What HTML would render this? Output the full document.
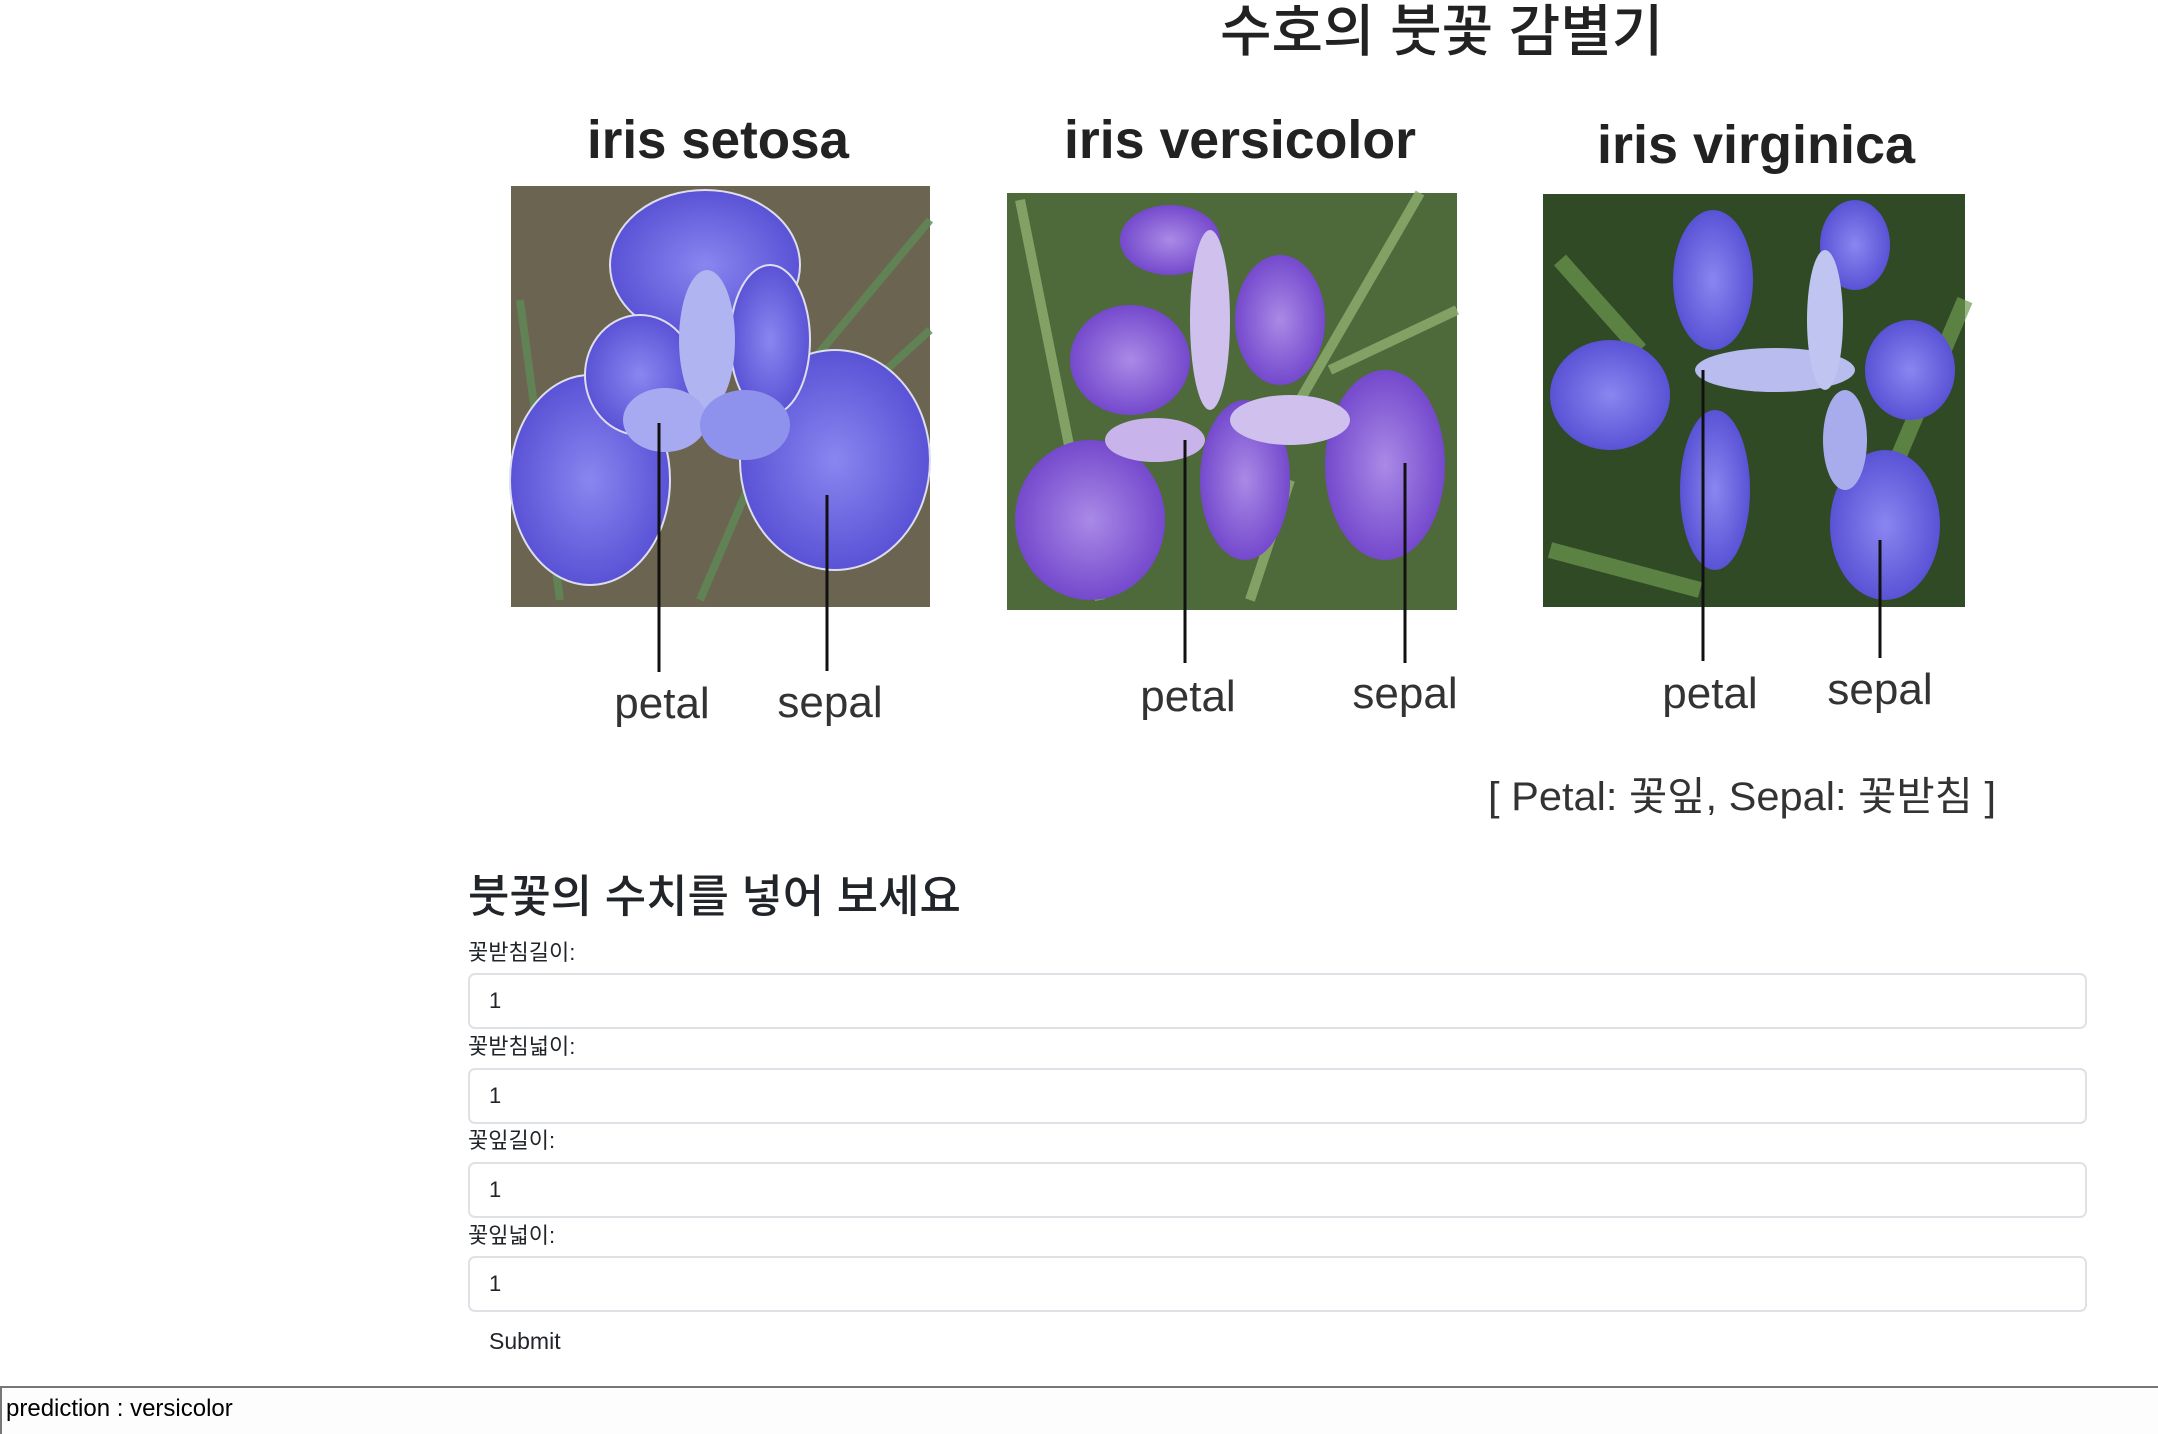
<!DOCTYPE html>
<html><head><meta charset="utf-8"><style>
body{margin:0;width:2158px;height:1434px;background:#fff;position:relative;overflow:hidden;font-family:"Liberation Sans","Noto Sans CJK KR",sans-serif;color:#212529}
.abs{position:absolute}
.lbl{position:absolute;left:468px;font-size:22px;line-height:26px}
.inp{position:absolute;left:468px;width:1619px;height:56px;border:2px solid #dee2e6;border-radius:7px;box-sizing:border-box;font-size:22px;line-height:52px;padding-left:19px;color:#212529}
</style></head><body>
<div class="abs" style="left:1220px;top:0;font-size:56px;line-height:64px;font-weight:500;color:#222">수호의 붓꽃 감별기</div>
<svg class="abs" style="left:0;top:0" width="2158" height="860">
<defs>
<radialGradient id="p" cx="50%" cy="50%" r="60%"><stop offset="0" stop-color="#8a86f0"/><stop offset="1" stop-color="#5048d0"/></radialGradient>
<radialGradient id="v" cx="50%" cy="50%" r="60%"><stop offset="0" stop-color="#a98ae6"/><stop offset="1" stop-color="#6a3cc8"/></radialGradient>
</defs>
<g font-family="Liberation Sans, sans-serif" font-weight="bold" font-size="54" fill="#222" text-anchor="middle">
<text x="718" y="158" textLength="262" lengthAdjust="spacingAndGlyphs">iris setosa</text>
<text x="1240" y="158" textLength="352" lengthAdjust="spacingAndGlyphs">iris versicolor</text>
<text x="1756" y="163" textLength="318" lengthAdjust="spacingAndGlyphs">iris virginica</text>
</g>
<rect x="511" y="186" width="419" height="421" fill="#6b6450"/>
<g stroke="#5f8a55" stroke-width="8" opacity=".8"><line x1="520" y1="300" x2="560" y2="600"/><line x1="930" y1="220" x2="780" y2="400"/><line x1="930" y1="330" x2="820" y2="430"/><line x1="700" y1="600" x2="760" y2="460"/></g>
<g fill="url(#p)" stroke="#dde" stroke-width="2">
<ellipse cx="705" cy="265" rx="95" ry="75"/>
<ellipse cx="590" cy="480" rx="80" ry="105"/>
<ellipse cx="835" cy="460" rx="95" ry="110"/>
<ellipse cx="640" cy="375" rx="55" ry="60"/>
<ellipse cx="770" cy="340" rx="40" ry="75"/>
</g>
<ellipse cx="707" cy="340" rx="28" ry="70" fill="#b0b4f0"/>
<ellipse cx="665" cy="420" rx="42" ry="32" fill="#a7aaf0"/>
<ellipse cx="745" cy="425" rx="45" ry="35" fill="#8f92ec"/>
<rect x="1007" y="193" width="450" height="417" fill="#4e6a3a"/>
<g stroke="#8fb070" stroke-width="10" opacity=".8"><line x1="1020" y1="200" x2="1100" y2="600"/><line x1="1420" y1="193" x2="1300" y2="400"/><line x1="1457" y1="310" x2="1330" y2="370"/><line x1="1250" y1="600" x2="1290" y2="480"/></g>
<g fill="url(#v)">
<ellipse cx="1170" cy="240" rx="50" ry="35"/>
<ellipse cx="1280" cy="320" rx="45" ry="65"/>
<ellipse cx="1130" cy="360" rx="60" ry="55"/>
<ellipse cx="1090" cy="520" rx="75" ry="80"/>
<ellipse cx="1385" cy="465" rx="60" ry="95"/>
<ellipse cx="1245" cy="480" rx="45" ry="80"/>
</g>
<ellipse cx="1210" cy="320" rx="20" ry="90" fill="#d0c0ee"/>
<ellipse cx="1290" cy="420" rx="60" ry="25" fill="#d0c0ee"/>
<ellipse cx="1155" cy="440" rx="50" ry="22" fill="#c8b4ea"/>
<rect x="1543" y="194" width="422" height="413" fill="#2f4a25"/>
<g stroke="#6f9a50" stroke-width="16" opacity=".7"><line x1="1550" y1="550" x2="1700" y2="590"/><line x1="1965" y1="300" x2="1880" y2="500"/><line x1="1560" y1="260" x2="1640" y2="350"/></g>
<g fill="url(#p)">
<ellipse cx="1713" cy="280" rx="40" ry="70"/>
<ellipse cx="1855" cy="245" rx="35" ry="45"/>
<ellipse cx="1910" cy="370" rx="45" ry="50"/>
<ellipse cx="1610" cy="395" rx="60" ry="55"/>
<ellipse cx="1715" cy="490" rx="35" ry="80"/>
<ellipse cx="1885" cy="525" rx="55" ry="75"/>
</g>
<ellipse cx="1775" cy="370" rx="80" ry="22" fill="#b8bcef"/>
<ellipse cx="1825" cy="320" rx="18" ry="70" fill="#c0c4f0"/>
<ellipse cx="1845" cy="440" rx="22" ry="50" fill="#a8acec"/>
<g stroke="#111" stroke-width="3">
<line x1="659" y1="423" x2="659" y2="672"/><line x1="827" y1="495" x2="827" y2="671"/>
<line x1="1185" y1="440" x2="1185" y2="663"/><line x1="1405" y1="463" x2="1405" y2="663"/>
<line x1="1703" y1="370" x2="1703" y2="661"/><line x1="1880" y1="540" x2="1880" y2="658"/>
</g>
<g font-family="Liberation Sans, sans-serif" font-size="44" fill="#333" text-anchor="middle">
<text x="662" y="718">petal</text><text x="830" y="717">sepal</text>
<text x="1188" y="711">petal</text><text x="1405" y="708">sepal</text>
<text x="1710" y="708">petal</text><text x="1880" y="704">sepal</text>
</g>
<text x="1996" y="810" text-anchor="end" font-family="Liberation Sans, Noto Sans CJK KR, sans-serif" font-size="40" fill="#333" textLength="508" lengthAdjust="spacingAndGlyphs">[ Petal: 꽃잎, Sepal: 꽃받침 ]</text>
</svg>
<div class="abs" style="left:468px;top:868px;font-size:45px;line-height:58px;font-weight:500">붓꽃의 수치를 넣어 보세요</div>
<div class="lbl" style="top:940px">꽃받침길이:</div>
<div class="inp" style="top:973px">1</div>
<div class="lbl" style="top:1034px">꽃받침넓이:</div>
<div class="inp" style="top:1068px">1</div>
<div class="lbl" style="top:1128px">꽃잎길이:</div>
<div class="inp" style="top:1162px">1</div>
<div class="lbl" style="top:1223px">꽃잎넓이:</div>
<div class="inp" style="top:1256px">1</div>
<div class="abs" style="left:489px;top:1327px;font-size:23px;line-height:28px">Submit</div>
<div class="abs" style="left:0;top:1386px;width:2158px;height:48px;border-top:2px solid #777;border-left:2px solid #777;box-sizing:border-box;background:#fdfdfd"></div>
<div class="abs" style="left:6px;top:1395px;font-size:24px;line-height:28px;color:#000">prediction : versicolor</div>
</body></html>
